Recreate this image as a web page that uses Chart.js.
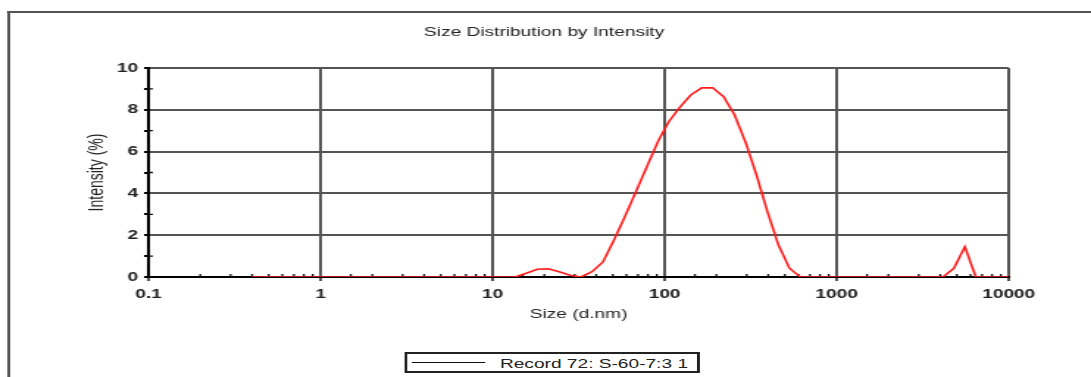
<!DOCTYPE html>
<html>
<head>
<meta charset="utf-8">
<title>Size Distribution by Intensity</title>
<script src="https://cdn.jsdelivr.net/npm/chart.js@4.4.1/dist/chart.umd.min.js"></script>
<style>
    html, body { margin: 0; padding: 0; background: #fff; overflow: hidden; }
    /* the instrument export is wide-stretched, so the whole figure is scaled on x */
    #wrap {
        position: absolute; left: 0; top: 0;
        width: 742px; height: 377px;
        transform: scaleX(1.4704); transform-origin: 0 0;
        font-family: "Liberation Sans", Arial, sans-serif;
    }
    #frame {
        position: absolute; left: 5px; top: 11px; right: -20px; bottom: -20px;
        border-top: 2px solid #555; border-left: 2px solid #555;
    }
    #chart-box { position: absolute; left: 0; top: 0; width: 742px; height: 377px; }
    #legend {
        position: absolute; left: 275px; top: 352px; width: 197px; height: 17px;
        border: 2px solid #222; background: #fff;
        font-size: 13px; color: #222; line-height: 17px; white-space: nowrap;
    }
    #legend .swatch {
        position: absolute; left: 3px; top: 8px; width: 50px; height: 0;
        border-top: 1.5px solid #111;
    }
    #legend .label { position: absolute; left: 63px; top: 1px; }
</style>
</head>
<body>
<div id="wrap">
    <div id="frame"></div>
    <div id="chart-box"><canvas id="dist-chart"></canvas></div>
    <div id="legend"><span class="swatch"></span><span class="label" id="legend-label"></span></div>
</div>
<script>
/* ---------- Data ---------- */
const recordName = "Record 72: S-60-7:3 1";

// size classes (d.nm)
const sizes = [
    0.4000, 0.4632, 0.5365, 0.6213, 0.7195, 0.8332, 0.9649, 1.117, 1.294, 1.499,
    1.736, 2.010, 2.328, 2.696, 3.122, 3.615, 4.187, 4.849, 5.615, 6.503,
    7.531, 8.721, 10.10, 11.70, 13.54, 15.69, 18.17, 21.04, 24.36, 28.21,
    32.67, 37.84, 43.82, 50.75, 58.77, 68.06, 78.82, 91.28, 105.7, 122.4,
    141.8, 164.2, 190.1, 220.2, 255.0, 295.3, 342.0, 396.1, 458.7, 531.2,
    615.1, 712.4, 825.0, 955.4, 1106, 1281, 1484, 1718, 1990, 2305,
    2669, 3091, 3580, 4145, 4801, 5560, 6439, 7456, 8635, 10000
];

// intensity (%) per size class
const intensity = [
    0, 0, 0, 0, 0, 0, 0, 0, 0, 0,
    0, 0, 0, 0, 0, 0, 0, 0, 0, 0,
    0, 0, 0, 0, 0, 0.18, 0.37, 0.39, 0.25, 0.08,
    0, 0.25, 0.72, 1.77, 2.9, 4.08, 5.28, 6.47, 7.43, 8.12,
    8.71, 9.05, 9.05, 8.63, 7.75, 6.45, 4.88, 3.12, 1.53, 0.42,
    0, 0, 0, 0, 0, 0, 0, 0, 0, 0,
    0, 0, 0, 0, 0.42, 1.45, 0, 0, 0, 0
];

const xTickLabels = ["0.1", "1", "10", "100", "1000", "10000"];
const yTickLabels = ["0", "2", "4", "6", "8", "10"];

/* ---------- Style ---------- */
const GRID = "#555";
const INK = "#222";

Chart.defaults.font.family = '"Liberation Sans", Arial, sans-serif';
Chart.defaults.color = INK;

function isDecade(v) {
    const e = Math.log10(v);
    return Math.abs(e - Math.round(e)) < 1e-6;
}

// small minor ticks pointing into the plot area
const innerTicks = {
    id: "innerTicks",
    beforeDatasetsDraw(chart) {
        const { ctx, chartArea, scales: { x, y } } = chart;
        ctx.save();
        ctx.strokeStyle = "#111";
        ctx.lineWidth = 1.3;
        ctx.beginPath();
        x.ticks.forEach(t => {
            if (isDecade(t.value)) return;
            const px = x.getPixelForValue(t.value);
            ctx.moveTo(px, chartArea.bottom);
            ctx.lineTo(px, chartArea.bottom - 3);
        });
        y.ticks.forEach(t => {
            if (t.value % 2 === 0) return;
            const py = y.getPixelForValue(t.value);
            ctx.moveTo(chartArea.left, py);
            ctx.lineTo(chartArea.left + 3, py);
        });
        ctx.stroke();
        ctx.restore();
    }
};

/* ---------- Chart ---------- */
function initChart() {
    const ctx = document.getElementById("dist-chart").getContext("2d");
    document.getElementById("legend-label").textContent = recordName;

    return new Chart(ctx, {
        type: "line",
        data: {
            datasets: [{
                label: recordName,
                data: sizes.map((s, i) => ({ x: s, y: intensity[i] })),
                borderColor: "#ff1a1a",
                borderWidth: 1.6,
                pointRadius: 0,
                tension: 0,
                fill: false
            }]
        },
        options: {
            responsive: true,
            maintainAspectRatio: false,
            animation: false,
            events: [],
            layout: { padding: { left: 54, right: 56, top: 0, bottom: 51 } },
            plugins: {
                legend: { display: false },
                tooltip: { enabled: false },
                title: {
                    display: true,
                    text: "Size Distribution by Intensity",
                    color: INK,
                    font: { size: 13, weight: "normal" },
                    padding: { top: 25, bottom: 27.4 }
                }
            },
            scales: {
                x: {
                    type: "logarithmic",
                    min: 0.1,
                    max: 10000,
                    afterFit: s => { s.height = 49; },
                    border: { color: "#000", width: 2 },
                    grid: {
                        lineWidth: 2,
                        color: c => (c.tick && isDecade(c.tick.value)) ? GRID : "rgba(0,0,0,0)",
                        tickColor: c => (c.tick && isDecade(c.tick.value)) ? GRID : "rgba(0,0,0,0)",
                        tickLength: 4
                    },
                    ticks: {
                        autoSkip: false,
                        maxRotation: 0,
                        padding: 6,
                        color: INK,
                        font: { size: 13, weight: "bold" },
                        callback: v => {
                            if (!isDecade(v)) return "";
                            return xTickLabels[Math.round(Math.log10(v)) + 1];
                        }
                    },
                    title: {
                        display: true,
                        text: "Size (d.nm)",
                        color: INK,
                        font: { size: 13, weight: "normal" }
                    }
                },
                y: {
                    min: 0,
                    max: 10,
                    afterFit: s => { s.width = 47; },
                    border: { color: "#000", width: 2 },
                    grid: {
                        lineWidth: 2,
                        color: c => (c.tick && c.tick.value % 2 === 0) ? GRID : "rgba(0,0,0,0)",
                        tickColor: "#000",
                        tickLength: 3
                    },
                    ticks: {
                        stepSize: 1,
                        autoSkip: false,
                        padding: 4,
                        color: INK,
                        font: { size: 13, weight: "bold" },
                        callback: v => (v % 2 === 0) ? yTickLabels[v / 2] : ""
                    },
                    title: {
                        display: true,
                        text: "Intensity (%)",
                        color: INK,
                        font: { size: 14, weight: "normal" }
                    }
                }
            }
        },
        plugins: [innerTicks]
    });
}

document.addEventListener("DOMContentLoaded", initChart);
</script>
</body>
</html>
